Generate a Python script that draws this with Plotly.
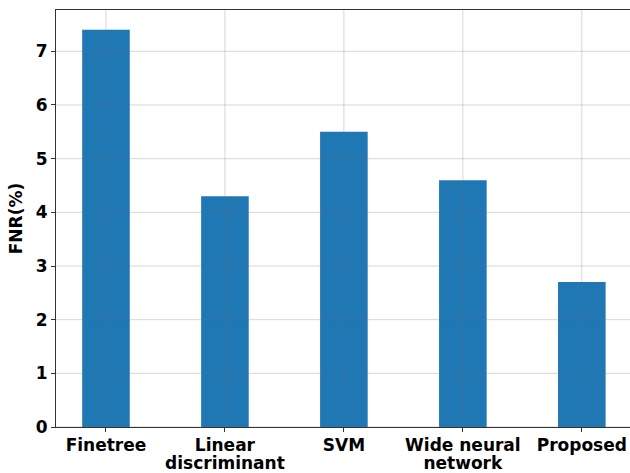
import plotly.graph_objects as go

categories = ["Finetree", "Linear<br>discriminant", "SVM", "Wide neural<br>network", "Proposed"]
fnr_values = [7.4, 4.3, 5.5, 4.6, 2.7]
y_ticks = [0, 1, 2, 3, 4, 5, 6, 7]

font_family = "DejaVu Sans"
grid_color = "rgba(110,110,110,0.28)"

span_open = "<span style='font-size:17px'>"
tick_text = [span_open + c.replace("<br>", "</span><br>" + span_open) + "</span>" for c in categories]

fig = go.Figure()
fig.add_trace(go.Bar(
    x=categories, y=fnr_values, width=0.4,
    marker=dict(color="#1f77b4", line=dict(width=0)),
    hoverinfo="skip",
))

shapes = []
for t in y_ticks:
    shapes.append(dict(type="line", xref="paper", yref="y", x0=0, x1=1, y0=t, y1=t,
                       line=dict(color=grid_color, width=1), layer="above"))
for c in categories:
    shapes.append(dict(type="line", xref="x", yref="paper", x0=c, x1=c, y0=0, y1=1,
                       line=dict(color=grid_color, width=1), layer="above"))

fig.update_layout(
    width=630, height=473,
    margin=dict(l=56, r=0, t=10, b=46, autoexpand=False),
    plot_bgcolor="white", paper_bgcolor="white",
    showlegend=False,
    shapes=shapes,
    font=dict(family=font_family, color="black", size=17),
)
fig.update_xaxes(
    range=[-0.42, 4.405], showgrid=False, showline=True, mirror=True,
    linecolor="#333333", linewidth=1.2, ticks="outside", ticklen=4, tickcolor="#333333",
    tickvals=categories, ticktext=tick_text, ticklabelstandoff=2,
    tickfont=dict(family=font_family, size=14, color="black", weight="bold"),
    automargin=False,
)
fig.update_yaxes(
    range=[0, 7.77], tickvals=y_ticks, showgrid=False, showline=True, mirror=False,
    linecolor="#333333", linewidth=1.2, ticks="outside", ticklen=4, tickcolor="#333333",
    tickfont=dict(family=font_family, size=17, color="black", weight="bold"),
    title=dict(text="FNR(%)", font=dict(family=font_family, size=17, color="black", weight="bold"), standoff=8),
    zeroline=False, automargin=False,
)

fig.write_html(
    "out.html",
    config={"displayModeBar": False},
    post_script="document.body.style.margin='0';document.body.style.overflow='hidden';",
)
